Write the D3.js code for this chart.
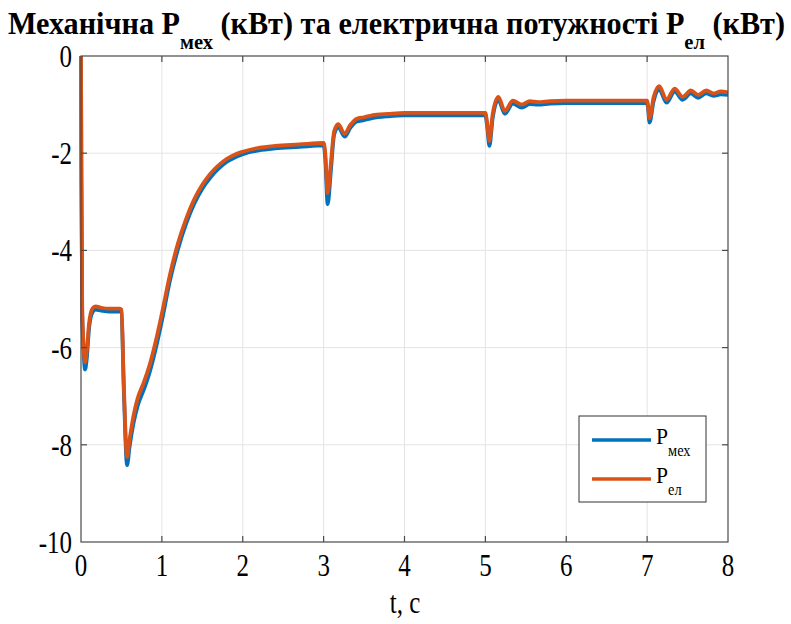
<!DOCTYPE html>
<html>
<head>
<meta charset="utf-8">
<script src="https://cdn.jsdelivr.net/npm/d3@7"></script>
<style>
  html, body { margin: 0; padding: 0; background: #fff; }
  svg { display: block; }
</style>
</head>
<body>
<svg id="chart" width="791" height="624"></svg>
<script>
// Time axis, seconds
const time = [0, 0.005, 0.015, 0.03, 0.05, 0.07, 0.10, 0.14, 0.18, 0.25, 0.35, 0.48, 0.50, 0.53, 0.57, 0.60, 0.65, 0.70, 0.78, 0.85, 0.92, 1.0, 1.1, 1.2, 1.3, 1.4, 1.5, 1.6, 1.7, 1.8, 1.9, 2.0, 2.2, 2.4, 2.7, 3.0, 3.02, 3.05, 3.09, 3.13, 3.18, 3.26, 3.33, 3.41, 3.5, 3.6, 3.8, 4.0, 4.5, 5.0, 5.02, 5.05, 5.09, 5.16, 5.24, 5.34, 5.45, 5.55, 5.65, 5.8, 6.0, 6.5, 7.0, 7.01, 7.03, 7.08, 7.15, 7.24, 7.34, 7.44, 7.54, 7.63, 7.73, 7.82, 7.91, 8.0];

// Mechanical power, kW
const pMech = [0, -2.5, -5.3, -6.0, -6.45, -6.25, -5.6, -5.28, -5.22, -5.24, -5.26, -5.26, -5.28, -6.9, -8.42, -8.05, -7.55, -7.2, -6.85, -6.5, -6.05, -5.45, -4.62, -3.97, -3.45, -3.04, -2.73, -2.5, -2.32, -2.18, -2.09, -2.02, -1.94, -1.9, -1.87, -1.84, -2.1, -3.05, -2.35, -1.62, -1.46, -1.66, -1.48, -1.35, -1.32, -1.28, -1.24, -1.22, -1.22, -1.22, -1.42, -1.85, -1.28, -0.9, -1.19, -0.98, -1.06, -0.99, -1.0, -0.98, -0.97, -0.97, -0.97, -1.06, -1.37, -0.93, -0.69, -0.96, -0.73, -0.9, -0.77, -0.86, -0.77, -0.82, -0.79, -0.8];

// Electrical power, kW
const pElec = [0, -2.5, -5.2, -5.9, -6.3, -6.1, -5.5, -5.2, -5.15, -5.18, -5.2, -5.2, -5.22, -6.8, -8.25, -7.9, -7.4, -7.05, -6.7, -6.35, -5.9, -5.3, -4.5, -3.85, -3.35, -2.95, -2.65, -2.42, -2.25, -2.12, -2.03, -1.97, -1.89, -1.85, -1.82, -1.79, -2.0, -2.82, -2.2, -1.55, -1.40, -1.60, -1.42, -1.29, -1.26, -1.22, -1.19, -1.17, -1.17, -1.17, -1.35, -1.75, -1.2, -0.84, -1.13, -0.92, -1.0, -0.93, -0.95, -0.93, -0.92, -0.92, -0.92, -1.0, -1.28, -0.85, -0.62, -0.90, -0.67, -0.84, -0.71, -0.80, -0.71, -0.77, -0.73, -0.75];

const xTicks = [0, 1, 2, 3, 4, 5, 6, 7, 8];
const yTicks = [0, -2, -4, -6, -8, -10];
const seriesColors = ["#0072BD", "#D95319"];

const svg = d3.select("#chart");
const x = d3.scaleLinear().domain([0, 8]).range([81, 728]);
const y = d3.scaleLinear().domain([-10, 0]).range([542, 56]);

// Text is narrowed with textLength rather than a transform
const SX = 0.78;
function label(parent, px, py, anchor) {
  return parent.append("text")
    .style("font-family", '"Liberation Serif"')
    .attr("fill", "#000")
    .attr("x", px).attr("y", py)
    .attr("text-anchor", anchor || "start");
}
function narrow(sel, factor) {
  const w = sel.node().getComputedTextLength();
  sel.attr("textLength", w * factor).attr("lengthAdjust", "spacingAndGlyphs");
  return sel;
}

// Grid
const grid = svg.append("g").attr("stroke", "#e4e4e4").attr("stroke-width", 1);
grid.selectAll(".gx").data(xTicks.slice(1, -1)).join("line")
  .attr("x1", d => x(d)).attr("x2", d => x(d)).attr("y1", y(0)).attr("y2", y(-10));
grid.selectAll(".gy").data(yTicks.slice(1, -1)).join("line")
  .attr("y1", d => y(d)).attr("y2", d => y(d)).attr("x1", x(0)).attr("x2", x(8));

// Series
const line = d3.line().x((d, i) => x(time[i])).y(d => y(d)).curve(d3.curveMonotoneX);
const plot = svg.append("g");
[pMech, pElec].forEach((s, k) => {
  plot.append("path").datum(s)
    .attr("d", line)
    .attr("fill", "none")
    .attr("stroke", seriesColors[k])
    .attr("stroke-width", 3.8)
    .attr("stroke-linejoin", "round");
});

// Axes box with inward ticks on all sides
const ax = svg.append("g").attr("stroke", "#4a4a4a").attr("stroke-width", 1.2).attr("fill", "none");
ax.append("rect").attr("x", x(0)).attr("y", y(0)).attr("width", x(8) - x(0)).attr("height", y(-10) - y(0));
const tl = 6;
xTicks.slice(1, -1).forEach(t => {
  ax.append("line").attr("x1", x(t)).attr("x2", x(t)).attr("y1", y(-10)).attr("y2", y(-10) - tl);
  ax.append("line").attr("x1", x(t)).attr("x2", x(t)).attr("y1", y(0)).attr("y2", y(0) + tl);
});
yTicks.slice(1, -1).forEach(v => {
  ax.append("line").attr("y1", y(v)).attr("y2", y(v)).attr("x1", x(0)).attr("x2", x(0) + tl);
  ax.append("line").attr("y1", y(v)).attr("y2", y(v)).attr("x1", x(8)).attr("x2", x(8) - tl);
});

// Tick labels
const tickSize = 32;
xTicks.forEach(t => {
  narrow(label(svg, x(t), 576, "middle").attr("font-size", tickSize).text(t), SX);
});
yTicks.forEach(v => {
  narrow(label(svg, 72, y(v) + 11, "end").attr("font-size", tickSize).text(v), SX);
});

// Axis label
narrow(label(svg, 405, 613, "middle").attr("font-size", tickSize).text("t, c"), SX);

// Title
const title = label(svg, 8, 34, "start").attr("font-size", 31).attr("font-weight", "bold");
title.append("tspan").text("Механічна P");
title.append("tspan").attr("font-size", 21).attr("dy", 15).text("мех");
title.append("tspan").attr("dy", -15).text(" (кВт) та електрична потужності P");
title.append("tspan").attr("font-size", 21).attr("dy", 15).text("ел");
title.append("tspan").attr("dy", -15).text(" (кВт)");
title.attr("textLength", 777).attr("lengthAdjust", "spacingAndGlyphs");

// Legend
const lg = svg.append("g");
lg.append("rect").attr("x", 579).attr("y", 416).attr("width", 127).attr("height", 86)
  .attr("fill", "#fff").attr("stroke", "#333").attr("stroke-width", 1);
const legendNames = [["P", "мех"], ["P", "ел"]];
const legendY = [440, 479];
legendNames.forEach((n, k) => {
  lg.append("line").attr("x1", 592).attr("x2", 651).attr("y1", legendY[k]).attr("y2", legendY[k])
    .attr("stroke", seriesColors[k]).attr("stroke-width", 3.6);
  const t = label(lg, 656, legendY[k] + 4, "start").attr("font-size", 24);
  t.append("tspan").text(n[0]);
  t.append("tspan").attr("font-size", 16).attr("dy", 12).text(n[1]);
  narrow(t, 0.9);
});
</script>
</body>
</html>
